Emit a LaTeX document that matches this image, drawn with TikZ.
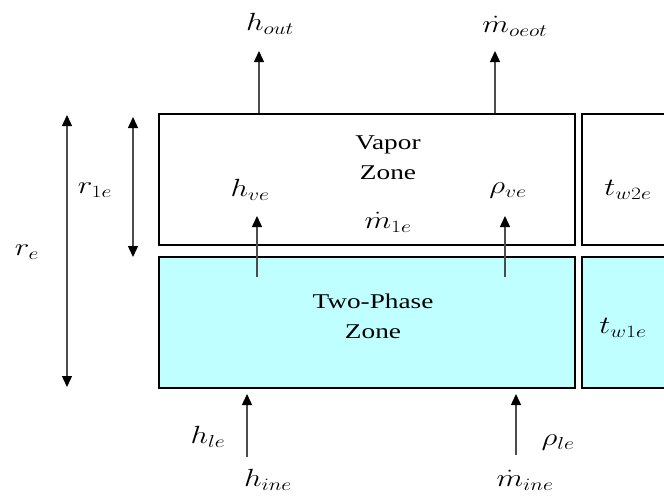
\documentclass[tikz,border=0pt]{standalone}
\usepackage{fontspec}
\setmainfont{Liberation Serif}
\usetikzlibrary{arrows.meta}
\definecolor{zonecyan}{RGB}{192,255,255}
\begin{document}
\begin{tikzpicture}[x=1pt,y=-1pt,
  zonebox/.style={draw=black,line width=2.4pt,minimum width=416pt,minimum height=131pt,inner sep=0pt},
  arr/.style={draw=black!70,line width=1.4pt,-{Triangle[width=10pt,length=11pt,color=black]},shorten >=-1pt},
  darr/.style={draw=black!70,line width=1.4pt,{Triangle[width=10pt,length=11pt,color=black]}-{Triangle[width=10pt,length=11pt,color=black]}},
  lbl/.style={inner sep=0pt,transform shape,xscale=1.25,font=\fontsize{27}{30}\selectfont},
  txt/.style={inner sep=0pt,transform shape,xscale=1.3,align=center,font=\fontsize{21}{30}\selectfont}]
\useasboundingbox (0,0) rectangle (664,499);
\fill[white] (0,0) rectangle (664,499);
\begin{scope}
\clip (0,0) rectangle (664,499);
\node[zonebox,fill=white] (vapor) at (367,179.5) {};
\node[zonebox,fill=zonecyan] (two) at (367,322.5) {};
\node[zonebox,fill=white,minimum width=118pt] (w2) at (641,179.5) {};
\node[zonebox,fill=zonecyan,minimum width=118pt] (w1) at (641,322.5) {};
\end{scope}
% texts
\node[txt] (vz) at (388,158) {Vapor\\Zone};
\node[txt] (tz) at (373,316) {Two-Phase\\Zone};
\node[lbl] (hout) at (270,24) {$h_{out}$};
\node[lbl] (moeot) at (515,26) {$\dot m_{oeot}$};
\node[lbl] (hve) at (250,190) {$h_{ve}$};
\node[lbl] (rhove) at (508,191) {$\rho_{ve}$};
\node[lbl] (m1e) at (388,222) {$\dot m_{1e}$};
\node[lbl] (tw2e) at (628,190) {$t_{w2e}$};
\node[lbl] (tw1e) at (623,328) {$t_{w1e}$};
\node[lbl] (hle) at (208,437) {$h_{le}$};
\node[lbl] (rhole) at (558,443) {$\rho_{le}$};
\node[lbl] (hine) at (268,480) {$h_{ine}$};
\node[lbl] (mine) at (525,480) {$\dot m_{ine}$};
\node[lbl] (r1e) at (95,190) {$r_{1e}$};
\node[lbl] (re) at (27,252) {$r_{e}$};
% arrow end coordinates
\coordinate (a1s) at (259,113);
\coordinate (a1e) at (259,52);
\coordinate (a2s) at (495,113);
\coordinate (a2e) at (495,52);
\coordinate (a3s) at (257,277);
\coordinate (a3e) at (257,217);
\coordinate (a4s) at (505,277);
\coordinate (a4e) at (505,217);
\coordinate (a5s) at (247,457);
\coordinate (a5e) at (247,395);
\coordinate (a6s) at (516,455);
\coordinate (a6e) at (516,395);
\coordinate (d1a) at (67,115);
\coordinate (d1b) at (67,387);
\coordinate (d2a) at (133,117);
\coordinate (d2b) at (133,257);
\draw[arr] (a1s) -- (a1e);
\draw[arr] (a2s) -- (a2e);
\draw[arr] (a3s) -- (a3e);
\draw[arr] (a4s) -- (a4e);
\draw[arr] (a5s) -- (a5e);
\draw[arr] (a6s) -- (a6e);
\draw[darr] (d1a) -- (d1b);
\draw[darr] (d2a) -- (d2b);
\end{tikzpicture}
\end{document}
